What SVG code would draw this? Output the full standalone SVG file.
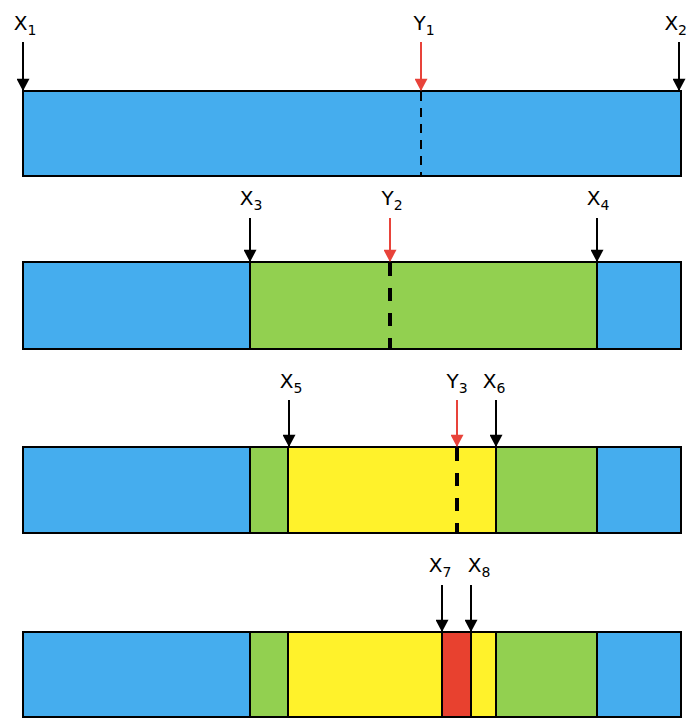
<svg xmlns="http://www.w3.org/2000/svg" width="688" height="719" viewBox="0 0 688 719">
<defs>
<marker id="hb" markerUnits="userSpaceOnUse" markerWidth="14" markerHeight="13" refX="12" refY="7" orient="auto" viewBox="0 0 13 14"><path d="M0,0 L13,7 L0,14 Z" fill="#000"/></marker>
<marker id="hr" markerUnits="userSpaceOnUse" markerWidth="14" markerHeight="13" refX="12" refY="7" orient="auto" viewBox="0 0 13 14"><path d="M0,0 L13,7 L0,14 Z" fill="#E8433A"/></marker>
</defs>
<style>
.b{fill:#45ADEE}.g{fill:#92D050}.y{fill:#FFF22B}.r{fill:#E8412F}
.seg{stroke:#000;stroke-width:2}
.frame{fill:none;stroke:#000;stroke-width:2}
.ak{stroke:#000;stroke-width:2;fill:none;marker-end:url(#hb)}
.ar{stroke:#E8433A;stroke-width:2;fill:none;marker-end:url(#hr)}
.d1{stroke:#000;stroke-width:2;stroke-dasharray:9 7}
.d2{stroke:#000;stroke-width:4;stroke-dasharray:13 12}
text{font-family:"DejaVu Sans","Liberation Sans",sans-serif;font-size:20px;fill:#000;text-anchor:middle}
.sub{font-size:14px}
</style>

<g id="bar1">
<rect class="b" x="23" y="91" width="658" height="85"/>
<rect class="frame" x="23" y="91" width="658" height="85"/>
</g>
<g id="bar2">
<rect class="b" x="23" y="262" width="658" height="87"/>
<rect class="g" x="250" y="262" width="347" height="87"/>
<line class="seg" x1="250" y1="262" x2="250" y2="349"/>
<line class="seg" x1="597" y1="262" x2="597" y2="349"/>
<rect class="frame" x="23" y="262" width="658" height="87"/>
</g>
<g id="bar3">
<rect class="b" x="23" y="447" width="658" height="86"/>
<rect class="g" x="250" y="447" width="347" height="86"/>
<rect class="y" x="288" y="447" width="208" height="86"/>
<line class="seg" x1="250" y1="447" x2="250" y2="533"/>
<line class="seg" x1="288" y1="447" x2="288" y2="533"/>
<line class="seg" x1="496" y1="447" x2="496" y2="533"/>
<line class="seg" x1="597" y1="447" x2="597" y2="533"/>
<rect class="frame" x="23" y="447" width="658" height="86"/>
</g>
<g id="bar4">
<rect class="b" x="23" y="632" width="658" height="85"/>
<rect class="g" x="250" y="632" width="347" height="85"/>
<rect class="y" x="288" y="632" width="208" height="85"/>
<rect class="r" x="442" y="632" width="29" height="85"/>
<line class="seg" x1="250" y1="632" x2="250" y2="717"/>
<line class="seg" x1="288" y1="632" x2="288" y2="717"/>
<line class="seg" x1="442" y1="632" x2="442" y2="717"/>
<line class="seg" x1="471" y1="632" x2="471" y2="717"/>
<line class="seg" x1="496" y1="632" x2="496" y2="717"/>
<line class="seg" x1="597" y1="632" x2="597" y2="717"/>
<rect class="frame" x="23" y="632" width="658" height="85"/>
</g>

<g id="cuts">
<line class="d1" x1="421" y1="92" x2="421" y2="176"/>
<line class="d2" x1="390" y1="263" x2="390" y2="349"/>
<line class="d2" x1="457" y1="448" x2="457" y2="533"/>
</g>

<g id="connectors">
<line class="ak" x1="23" y1="42" x2="23" y2="90"/>
<line class="ar" x1="421" y1="42" x2="421" y2="90"/>
<line class="ak" x1="679" y1="42" x2="679" y2="90"/>
<line class="ak" x1="250" y1="218" x2="250" y2="261"/>
<line class="ar" x1="390" y1="218" x2="390" y2="261"/>
<line class="ak" x1="597" y1="218" x2="597" y2="261"/>
<line class="ak" x1="289" y1="400" x2="289" y2="446"/>
<line class="ar" x1="457" y1="400" x2="457" y2="446"/>
<line class="ak" x1="496" y1="400" x2="496" y2="446"/>
<line class="ak" x1="442" y1="585" x2="442" y2="631"/>
<line class="ak" x1="471" y1="585" x2="471" y2="631"/>
</g>

<g id="labels">
<text x="25" y="30">X<tspan class="sub" dy="5">1</tspan></text>
<text x="424" y="30">Y<tspan class="sub" dy="5">1</tspan></text>
<text x="687" y="30" style="text-anchor:end">X<tspan class="sub" dy="5">2</tspan></text>
<text x="251" y="205">X<tspan class="sub" dy="5">3</tspan></text>
<text x="392" y="205">Y<tspan class="sub" dy="5">2</tspan></text>
<text x="598" y="205">X<tspan class="sub" dy="5">4</tspan></text>
<text x="291" y="388">X<tspan class="sub" dy="5">5</tspan></text>
<text x="457" y="388">Y<tspan class="sub" dy="5">3</tspan></text>
<text x="494" y="388">X<tspan class="sub" dy="5">6</tspan></text>
<text x="440" y="572">X<tspan class="sub" dy="5">7</tspan></text>
<text x="479" y="572">X<tspan class="sub" dy="5">8</tspan></text>
</g>
</svg>
